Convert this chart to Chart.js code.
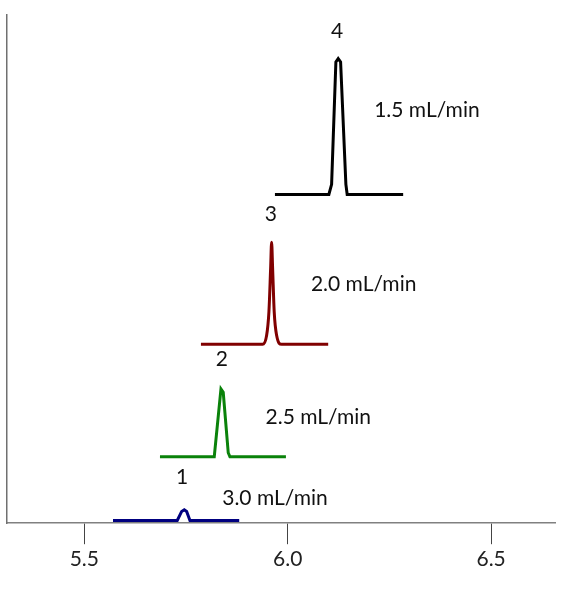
<!DOCTYPE html>
<html>
<head>
<meta charset="utf-8">
<script src="https://cdn.jsdelivr.net/npm/chart.js@4"></script>
<style>
  html, body { margin: 0; padding: 0; background: #fff; }
  #wrap { width: 561px; height: 591px; }
</style>
</head>
<body>
<div id="wrap"><canvas id="c" width="561" height="591"></canvas></div>
<script>
// ---- data ----
const tickValues = [5.5, 6.0, 6.5];

const flow30X = [5.5705, 5.7285, 5.7393, 5.7457, 5.7516, 5.7597, 5.8808];
const flow30Y = [2.7, 2.7, 11.7, 13.3, 11.7, 2.7, 2.7];

const flow25X = [5.686, 5.8194, 5.8359, 5.8415, 5.8538, 5.858, 5.9956];
const flow25Y = [66, 66, 133.3, 130, 70, 66, 66];

const flow20X = [5.7867, 5.9383, 5.9482, 5.9538, 5.958, 5.9604, 5.9629, 5.9668, 5.9727, 5.985, 6.0995];
const flow20Y = [177.7, 177.7, 186.7, 210, 253.3, 279.3, 253.3, 210, 186.7, 177.7, 177.7];

const flow15X = [5.9686, 6.1012, 6.1079, 6.1184, 6.1241, 6.130, 6.143, 6.1462, 6.2838];
const flow15Y = [326.7, 326.7, 336.7, 458.3, 461.7, 458.3, 336.7, 326.7, 326.7];

const peakLabels = ['1', '2', '3', '4'];
const peakLabelX = [5.7405, 5.838, 5.9587, 6.1216];
const peakLabelY = [46, 163, 307, 489];

const flowLabels = ['3.0 mL/min', '2.5 mL/min', '2.0 mL/min', '1.5 mL/min'];
const flowLabelX = [5.839, 5.9455, 6.057, 6.2125];
const flowLabelY = [25, 105.3, 237.5, 410];

// ---- build ----
function pts(xs, ys) { return xs.map((x, i) => ({ x: x, y: ys[i] })); }

const FONT = 'Lato, "Open Sans", sans-serif';

const labelPlugin = {
  id: 'peakLabels',
  afterDatasetsDraw(chart) {
    const { ctx, scales: { x, y } } = chart;
    ctx.save();
    ctx.fillStyle = '#111';
    ctx.font = '21px ' + FONT;
    ctx.textBaseline = 'middle';
    ctx.textAlign = 'center';
    peakLabels.forEach((t, i) => {
      ctx.fillText(t, x.getPixelForValue(peakLabelX[i]), y.getPixelForValue(peakLabelY[i]));
    });
    ctx.textAlign = 'left';
    flowLabels.forEach((t, i) => {
      ctx.fillText(t, x.getPixelForValue(flowLabelX[i]), y.getPixelForValue(flowLabelY[i]));
    });
    ctx.restore();
  }
};

const lineStyle = { borderWidth: 3, pointRadius: 0, fill: false, tension: 0 };

new Chart(document.getElementById('c'), {
  type: 'line',
  data: {
    datasets: [
      Object.assign({ label: '3.0 mL/min', data: pts(flow30X, flow30Y), borderColor: '#000080' }, lineStyle),
      Object.assign({ label: '2.5 mL/min', data: pts(flow25X, flow25Y), borderColor: '#0a820a' }, lineStyle),
      Object.assign({ label: '2.0 mL/min', data: pts(flow20X, flow20Y), borderColor: '#800000' }, lineStyle, { cubicInterpolationMode: 'monotone' }),
      Object.assign({ label: '1.5 mL/min', data: pts(flow15X, flow15Y), borderColor: '#000000' }, lineStyle)
    ]
  },
  options: {
    responsive: false,
    animation: false,
    devicePixelRatio: 1,
    layout: { padding: { left: 7, right: 6, top: 15, bottom: 17.6 } },
    plugins: { legend: { display: false }, tooltip: { enabled: false } },
    scales: {
      x: {
        type: 'linear',
        min: 5.31,
        max: 6.657,
        afterBuildTicks: (axis) => { axis.ticks = tickValues.map(v => ({ value: v })); },
        ticks: {
          callback: (v) => Number(v).toFixed(1),
          font: { family: FONT, size: 21 },
          color: '#222',
          padding: 2,
          maxRotation: 0,
          autoSkip: false
        },
        grid: { display: true, drawOnChartArea: false, drawTicks: true, tickLength: 21, tickColor: '#444', lineWidth: 1 },
        border: { display: true, color: '#808080', width: 1.5 }
      },
      y: {
        type: 'linear',
        min: 0,
        max: 505,
        ticks: { display: false },
        grid: { display: false, drawTicks: false },
        border: { display: true, color: '#707070', width: 1.5 }
      }
    }
  },
  plugins: [labelPlugin]
});
</script>
</body>
</html>
